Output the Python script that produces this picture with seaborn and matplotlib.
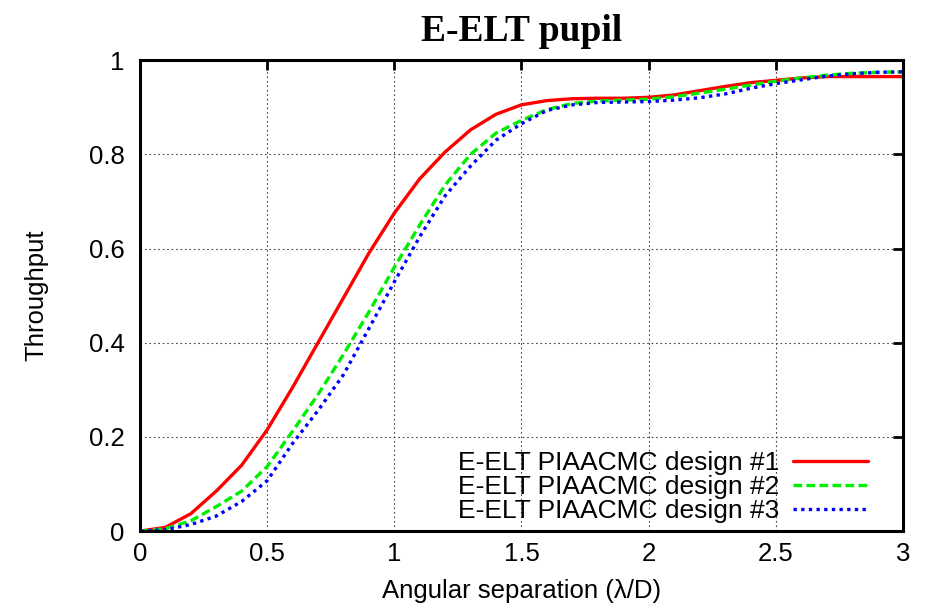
import numpy as np
import pandas as pd
import matplotlib
matplotlib.use("Agg")
import matplotlib.pyplot as plt
import seaborn as sns

separation = [0.0, 0.1, 0.2, 0.3, 0.4, 0.5, 0.6, 0.7, 0.8, 0.9, 1.0,
              1.1, 1.2, 1.3, 1.4, 1.5, 1.6, 1.7, 1.8, 1.9, 2.0,
              2.1, 2.2, 2.3, 2.4, 2.5, 2.6, 2.7, 2.8, 2.9, 3.0]
design1 = [0.0, 0.008, 0.037, 0.085, 0.14, 0.215, 0.305, 0.40, 0.495, 0.59, 0.675,
           0.748, 0.805, 0.852, 0.885, 0.905, 0.914, 0.918, 0.919, 0.919, 0.921,
           0.926, 0.935, 0.944, 0.952, 0.957, 0.962, 0.965, 0.965, 0.965, 0.965]
design2 = [0.0, 0.005, 0.022, 0.052, 0.085, 0.137, 0.212, 0.29, 0.375, 0.465, 0.56,
           0.65, 0.735, 0.80, 0.845, 0.872, 0.895, 0.908, 0.913, 0.915, 0.917,
           0.922, 0.93, 0.938, 0.947, 0.955, 0.962, 0.968, 0.972, 0.974, 0.975]
design3 = [0.0, 0.003, 0.014, 0.032, 0.063, 0.107, 0.186, 0.256, 0.332, 0.43, 0.529,
           0.625, 0.712, 0.775, 0.83, 0.865, 0.893, 0.905, 0.91, 0.911, 0.912,
           0.915, 0.92, 0.928, 0.94, 0.95, 0.958, 0.966, 0.971, 0.974, 0.975]
labels = ["E-ELT PIAACMC design #1", "E-ELT PIAACMC design #2", "E-ELT PIAACMC design #3"]
x_ticks = [0, 0.5, 1, 1.5, 2, 2.5, 3]
x_tick_labels = ["0", "0.5", "1", "1.5", "2", "2.5", "3"]
y_ticks = [0, 0.2, 0.4, 0.6, 0.8, 1]
y_tick_labels = ["0", "0.2", "0.4", "0.6", "0.8", "1"]

rows = []
for lab, vals in zip(labels, [design1, design2, design3]):
    for xv, yv in zip(separation, vals):
        rows.append({"sep": xv, "thr": yv, "design": lab})
df = pd.DataFrame(rows)

sns.set_style("white")
plt.rcParams['font.family'] = ['Liberation Sans', 'DejaVu Sans']
plt.rcParams['text.color'] = 'black'
plt.rcParams['axes.labelcolor'] = 'black'

fig = plt.figure(figsize=(9.27, 6.07), dpi=100)
ax = fig.add_axes([0.151, 0.125, 0.823, 0.776])

palette = {labels[0]: "#ff0000", labels[1]: "#00ee00", labels[2]: "#0000ff"}
dashes = {labels[0]: "", labels[1]: (2.6, 1.3), labels[2]: (1.0, 1.3)}
sns.lineplot(data=df, x="sep", y="thr", hue="design", style="design",
             palette=palette, dashes=dashes, linewidth=2.4, ax=ax)

ax.set_xlim(0, 3)
ax.set_ylim(0, 1)
ax.set_xticks(x_ticks)
ax.set_xticklabels(x_tick_labels)
ax.set_yticks(y_ticks)
ax.set_yticklabels(y_tick_labels)
ax.grid(True, color="#444444", linestyle=(0, (1.5, 2.5)), linewidth=0.8)
ax.tick_params(direction="in", length=7, width=2, top=True, right=True,
               labelsize=18.5, colors="black")
ax.tick_params(axis="x", pad=8)
ax.tick_params(axis="y", pad=11)
for s in ax.spines.values():
    s.set_linewidth(2.2)
    s.set_color("black")

ax.set_xlabel("Angular separation (λ/D)", fontsize=18.5, labelpad=9, color="black")
ax.set_ylabel("Throughput", fontsize=18.5, labelpad=29, color="black")
ax.set_title("E-ELT pupil", fontsize=27, fontweight="bold",
             family="Liberation Serif", pad=14, color="black")

ax.legend(loc="lower right", bbox_to_anchor=(0.968, -0.005), frameon=False,
          markerfirst=False, fontsize=19, handlelength=2.85, handletextpad=0.5,
          labelspacing=0.0, borderaxespad=0.0, title=None)

fig.savefig("out.png", dpi=100)
